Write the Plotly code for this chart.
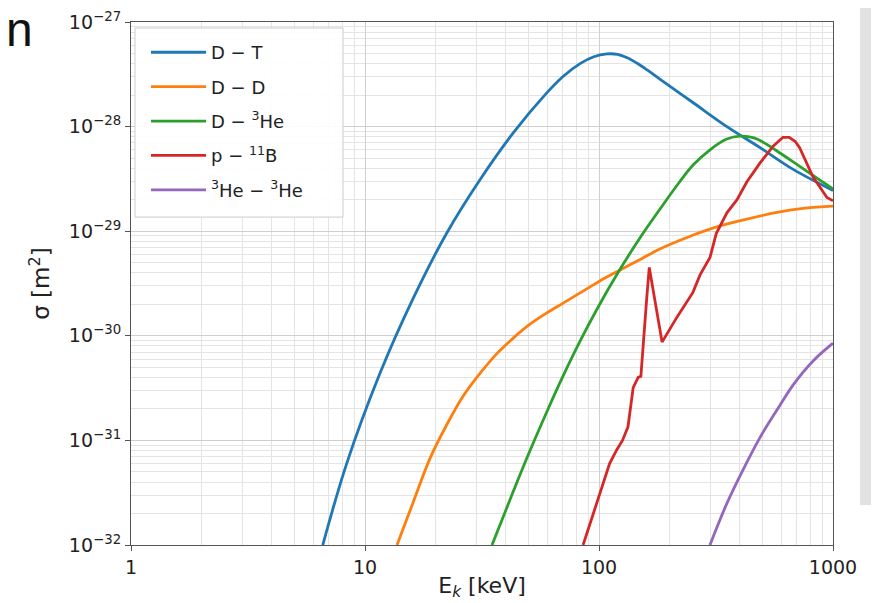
import plotly.graph_objects as go

# ---- data ----
e_dt = [6.6, 8.35, 11.6, 16.1, 22.3, 31.0, 43.0, 59.8, 70, 83, 95, 108, 120, 132, 145, 160, 182, 252, 352, 488, 676, 1000]
s_dt = [1.0e-32, 6.0e-32, 4.4e-31, 2.3e-30, 9.5e-30, 3.1e-29, 8.7e-29, 2.1e-28, 3.0e-28, 4.0e-28, 4.65e-28,
        4.95e-28, 4.9e-28, 4.55e-28, 4.05e-28, 3.5e-28, 2.85e-28, 1.7e-28, 1.0e-28, 6.3e-29, 3.9e-29, 2.45e-29]

e_dd = [13.7, 16, 19, 22.5, 26.2, 31, 36.6, 43, 50.7, 60, 70, 83, 100, 121, 150, 182, 250, 319, 420, 576, 760, 1000]
s_dd = [1.0e-32, 2.5e-32, 6.8e-32, 1.45e-31, 2.63e-31, 4.37e-31, 6.76e-31, 9.5e-31, 1.29e-30, 1.66e-30,
        2.04e-30, 2.57e-30, 3.31e-30, 4.17e-30, 5.37e-30, 6.76e-30, 9.1e-30, 1.1e-29, 1.29e-29, 1.51e-29,
        1.66e-29, 1.74e-29]

e_dhe3 = [34.9, 43, 50, 60, 70, 83, 100, 121, 150, 182, 220, 253, 300, 352, 400, 460, 522, 600, 676, 800, 1000]
s_dhe3 = [1.0e-32, 3.24e-32, 7.4e-32, 1.9e-31, 4.07e-31, 8.9e-31, 1.95e-30, 4.07e-30, 8.7e-30, 1.62e-29,
          2.92e-29, 4.31e-29, 6.07e-29, 7.6e-29, 8.1e-29, 7.8e-29, 6.75e-29, 5.5e-29, 4.6e-29, 3.55e-29, 2.54e-29]

e_pb11 = [85.5, 94.4, 101, 111, 119, 126, 133, 140, 147, 151, 160, 164, 186, 215, 252, 270, 298, 317, 352,
          389, 428, 488, 555, 611, 650, 690, 720, 822, 942, 1000]
s_pb11 = [1.0e-32, 2.0e-32, 3.2e-32, 6.0e-32, 8.1e-32, 1.0e-31, 1.35e-31, 3.2e-31, 4.0e-31, 4.1e-31,
          2.3e-30, 4.5e-30, 8.7e-31, 1.5e-30, 2.6e-30, 3.8e-30, 5.6e-30, 9.5e-30, 1.5e-29,
          2.0e-29, 2.95e-29, 4.5e-29, 6.5e-29, 7.9e-29, 7.9e-29, 7.2e-29, 6.3e-29, 3.3e-29, 2.1e-29, 1.95e-29]

e_he3he3 = [298, 352, 412, 488, 576, 676, 822, 1000]
s_he3he3 = [1.0e-32, 2.5e-32, 5.2e-32, 1.07e-31, 1.95e-31, 3.4e-31, 5.75e-31, 8.5e-31]

series_names = ["D − T", "D − D", "D − <sup>3</sup>He", "p − <sup>11</sup>B", "<sup>3</sup>He − <sup>3</sup>He"]
series_colors = ["#1f77b4", "#ff7f0e", "#2ca02c", "#d62728", "#9467bd"]

x_tick_vals = [1, 10, 100, 1000]
x_tick_text = ["1", "10", "100", "1000"]
y_tick_vals = [1e-32, 1e-31, 1e-30, 1e-29, 1e-28, 1e-27]
y_tick_text = ["10<sup>−32</sup>", "10<sup>−31</sup>", "10<sup>−30</sup>", "10<sup>−29</sup>",
               "10<sup>−28</sup>", "10<sup>−27</sup>"]

FONT = "DejaVu Sans"

fig = go.Figure()
all_x = [e_dt, e_dd, e_dhe3, e_pb11, e_he3he3]
all_y = [s_dt, s_dd, s_dhe3, s_pb11, s_he3he3]
for i, (xs, ys) in enumerate(zip(all_x, all_y)):
    smooth = i != 3
    line = dict(color=series_colors[i], width=2.8)
    if smooth:
        line.update(shape="spline", smoothing=1.0)
    fig.add_trace(go.Scatter(
        x=xs, y=ys, mode="lines", name=series_names[i],
        legendgroup=f"g{i}", line=line,
    ))

axis_common = dict(
    showline=True, linecolor="#555555", linewidth=1.2, mirror=True,
    ticks="outside", ticklen=5, tickcolor="#555555",
    showgrid=True, gridcolor="#cfcfcf", gridwidth=1,
    zeroline=False, automargin=False,
    tickfont=dict(family=FONT, size=19, color="#222222"),
)

fig.update_xaxes(
    type="log", range=[0, 3],
    tickvals=x_tick_vals, ticktext=x_tick_text,
    minor=dict(dtick="D1", showgrid=True, gridcolor="#e4e4e4", ticks=""),
    title=dict(text="E<sub><i>k</i></sub> [keV]", font=dict(family=FONT, size=22, color="#222222"), standoff=0),
    **axis_common,
)
fig.update_yaxes(
    type="log", range=[-32, -27],
    tickvals=y_tick_vals, ticktext=y_tick_text,
    minor=dict(dtick="D1", showgrid=True, gridcolor="#e4e4e4", ticks=""),
    title=dict(text="σ [m<sup>2</sup>]", font=dict(family=FONT, size=23, color="#222222"), standoff=12),
    **axis_common,
)

fig.update_layout(
    width=879, height=603, autosize=False,
    margin=dict(l=123, r=54, t=14, b=66),
    paper_bgcolor="white", plot_bgcolor="white",
    font=dict(family=FONT, color="#222222"),
    legend=dict(
        x=0.0214, y=0.977, xanchor="left", yanchor="top",
        bgcolor="rgba(0,0,0,0)", borderwidth=0,
        font=dict(family=FONT, size=18, color="#222222"),
        tracegroupgap=8, itemwidth=55,
    ),
    shapes=[
        dict(type="rect", xref="paper", yref="paper",
             x0=1.0385, x1=1.09, y0=0.0765, y1=1.04,
             fillcolor="#e2e2e2", line=dict(width=0), layer="below"),
        dict(type="rect", xref="paper", yref="paper",
             x0=0.0057, x1=0.302, y0=0.627, y1=0.9885,
             fillcolor="rgba(255,255,255,0.92)", line=dict(color="#cccccc", width=1), layer="above"),
    ],
    annotations=[dict(text="n", xref="paper", yref="paper", x=-0.181, y=0.985,
                      xanchor="left", yanchor="middle", showarrow=False,
                      font=dict(family="Liberation Sans", size=48, color="#111111"))],
)

fig.write_html("out.html")
